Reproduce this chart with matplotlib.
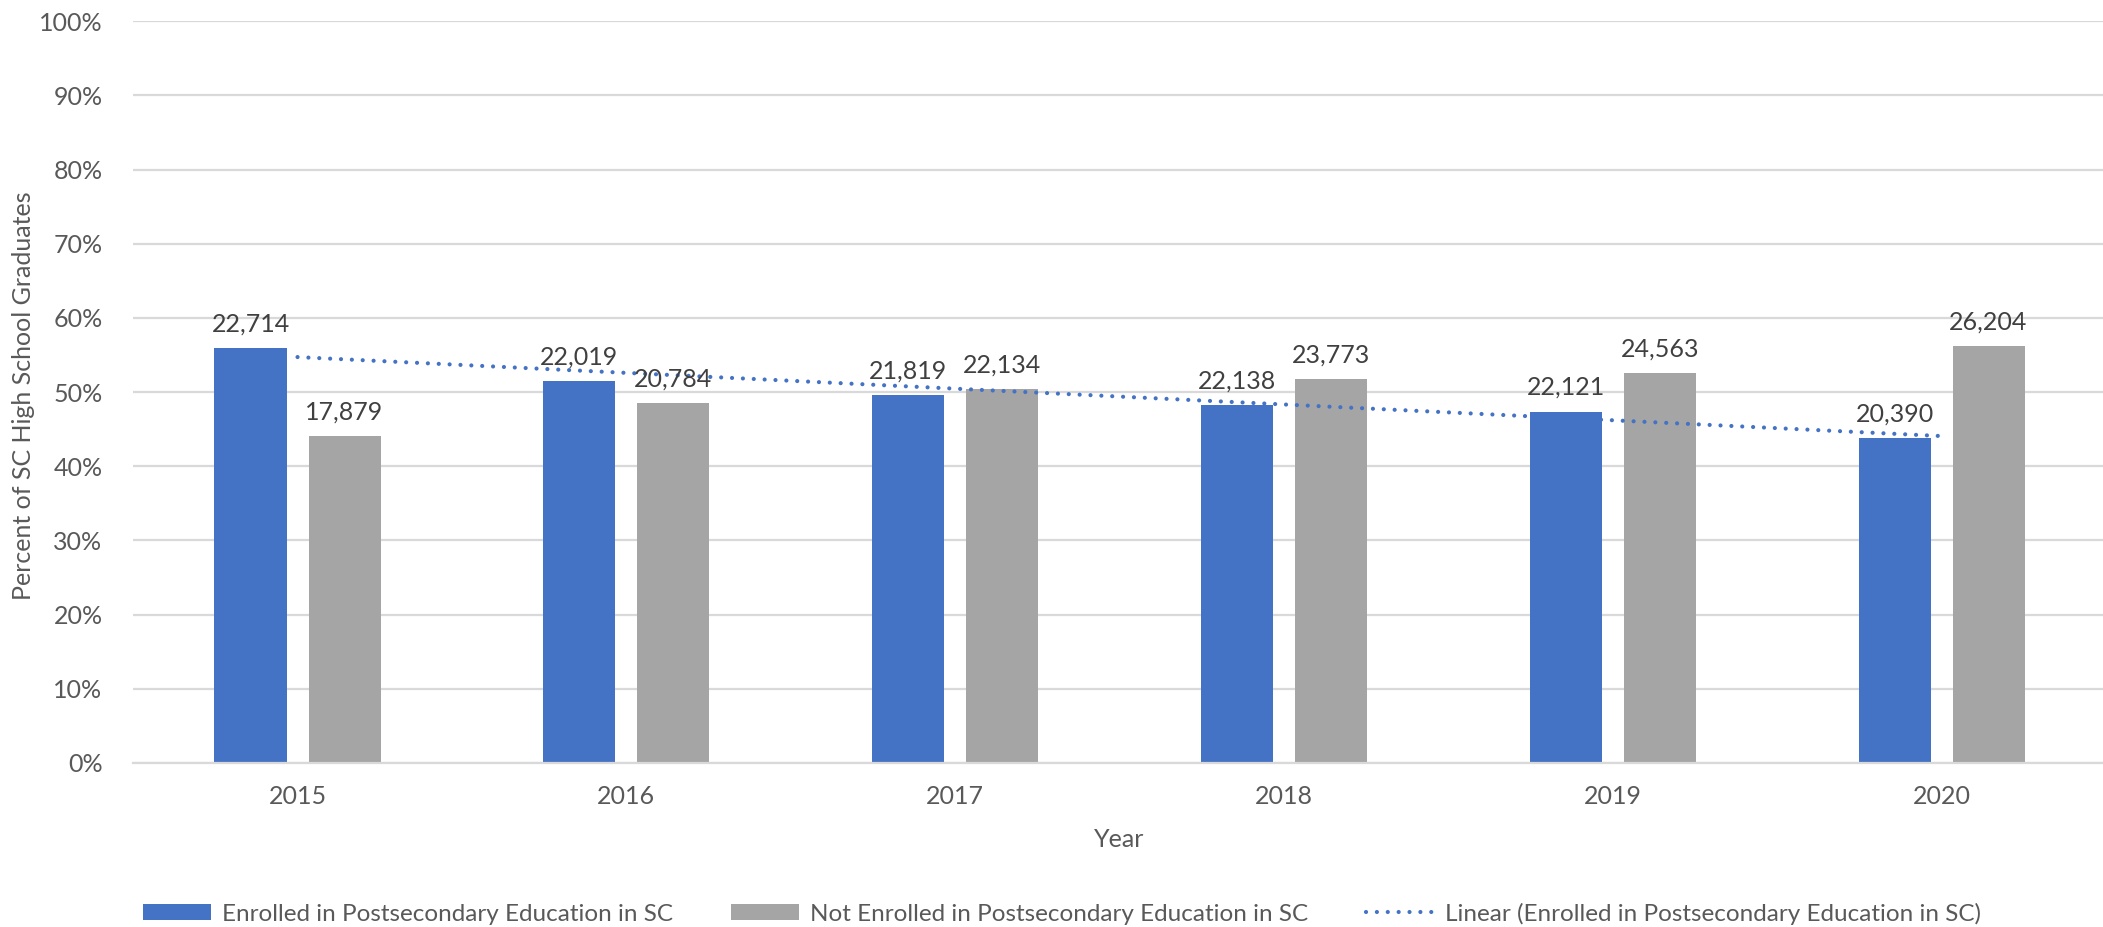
import numpy as np
import matplotlib
matplotlib.use("Agg")
import matplotlib.pyplot as plt
from matplotlib.ticker import PercentFormatter

# graduates per year, counts
years = ["2015", "2016", "2017", "2018", "2019", "2020"]
enrolled = [22714, 22019, 21819, 22138, 22121, 20390]
not_enrolled = [17879, 20784, 22134, 23773, 24563, 26204]

lab_enr = "Enrolled in Postsecondary Education in SC"
lab_not = "Not Enrolled in Postsecondary Education in SC"
lab_trend = "Linear (Enrolled in Postsecondary Education in SC)"

blue = "#4472C4"
grey = "#A5A5A5"
txt = "#595959"

plt.rcParams["font.family"] = ["Lato", "DejaVu Sans"]

enr = np.array(enrolled, dtype=float)
nen = np.array(not_enrolled, dtype=float)
tot = enr + nen
pct_enr = enr / tot * 100
pct_nen = nen / tot * 100

x = np.arange(len(years))
w = 0.219
off = 0.143

fig = plt.figure(figsize=(21.03, 9.27), dpi=100)
ax = fig.add_axes([0.0633, 0.177, 0.9381, 0.8])

b1 = ax.bar(x - off, pct_enr, w, color=blue, label=lab_enr, zorder=2)
b2 = ax.bar(x + off, pct_nen, w, color=grey, label=lab_not, zorder=2)

# linear trend of the enrolled share
k, c = np.polyfit(x, pct_enr, 1)
tl, = ax.plot(x, k * x + c, color=blue, lw=3.0, dashes=[0.01, 2.6],
              dash_capstyle="round", label=lab_trend, zorder=3)

for bars, vals in ((b1, enrolled), (b2, not_enrolled)):
    for r, v in zip(bars, vals):
        ax.annotate(f"{v:,}", (r.get_x() + r.get_width() / 2, r.get_height()),
                    xytext=(0, 9), textcoords="offset points", ha="center",
                    va="bottom", fontsize=18, color="#404040", zorder=4)

ax.set_ylim(0, 100)
ax.set_xlim(-0.5, 5.5)
ax.set_yticks(np.arange(0, 101, 10))
ax.yaxis.set_major_formatter(PercentFormatter(decimals=0))
ax.set_xticks(x)
ax.set_xticklabels(years)
ax.tick_params(axis="both", length=0, labelsize=18, colors=txt)
ax.tick_params(axis="x", pad=16)
ax.tick_params(axis="y", pad=22)
ax.grid(axis="y", color="#D9D9D9", lw=1.6, zorder=0)
for s in ("top", "right", "left"):
    ax.spines[s].set_visible(False)
ax.spines["bottom"].set_color("#D9D9D9")
ax.spines["bottom"].set_linewidth(1.6)

ax.set_xlabel("Year", fontsize=18, color=txt, labelpad=14)
ax.set_ylabel("Percent of SC High School Graduates", fontsize=18, color=txt)
ax.yaxis.set_label_coords(-0.0495, 0.495)

fig.legend(handles=[b1, b2, tl], loc="lower center", bbox_to_anchor=(0.505, -0.021),
           ncol=3, frameon=False, fontsize=17.5, labelcolor=txt, handlelength=2.8,
           handleheight=0.6, handletextpad=0.45, columnspacing=2.4)

fig.savefig("out.png", dpi=100)
